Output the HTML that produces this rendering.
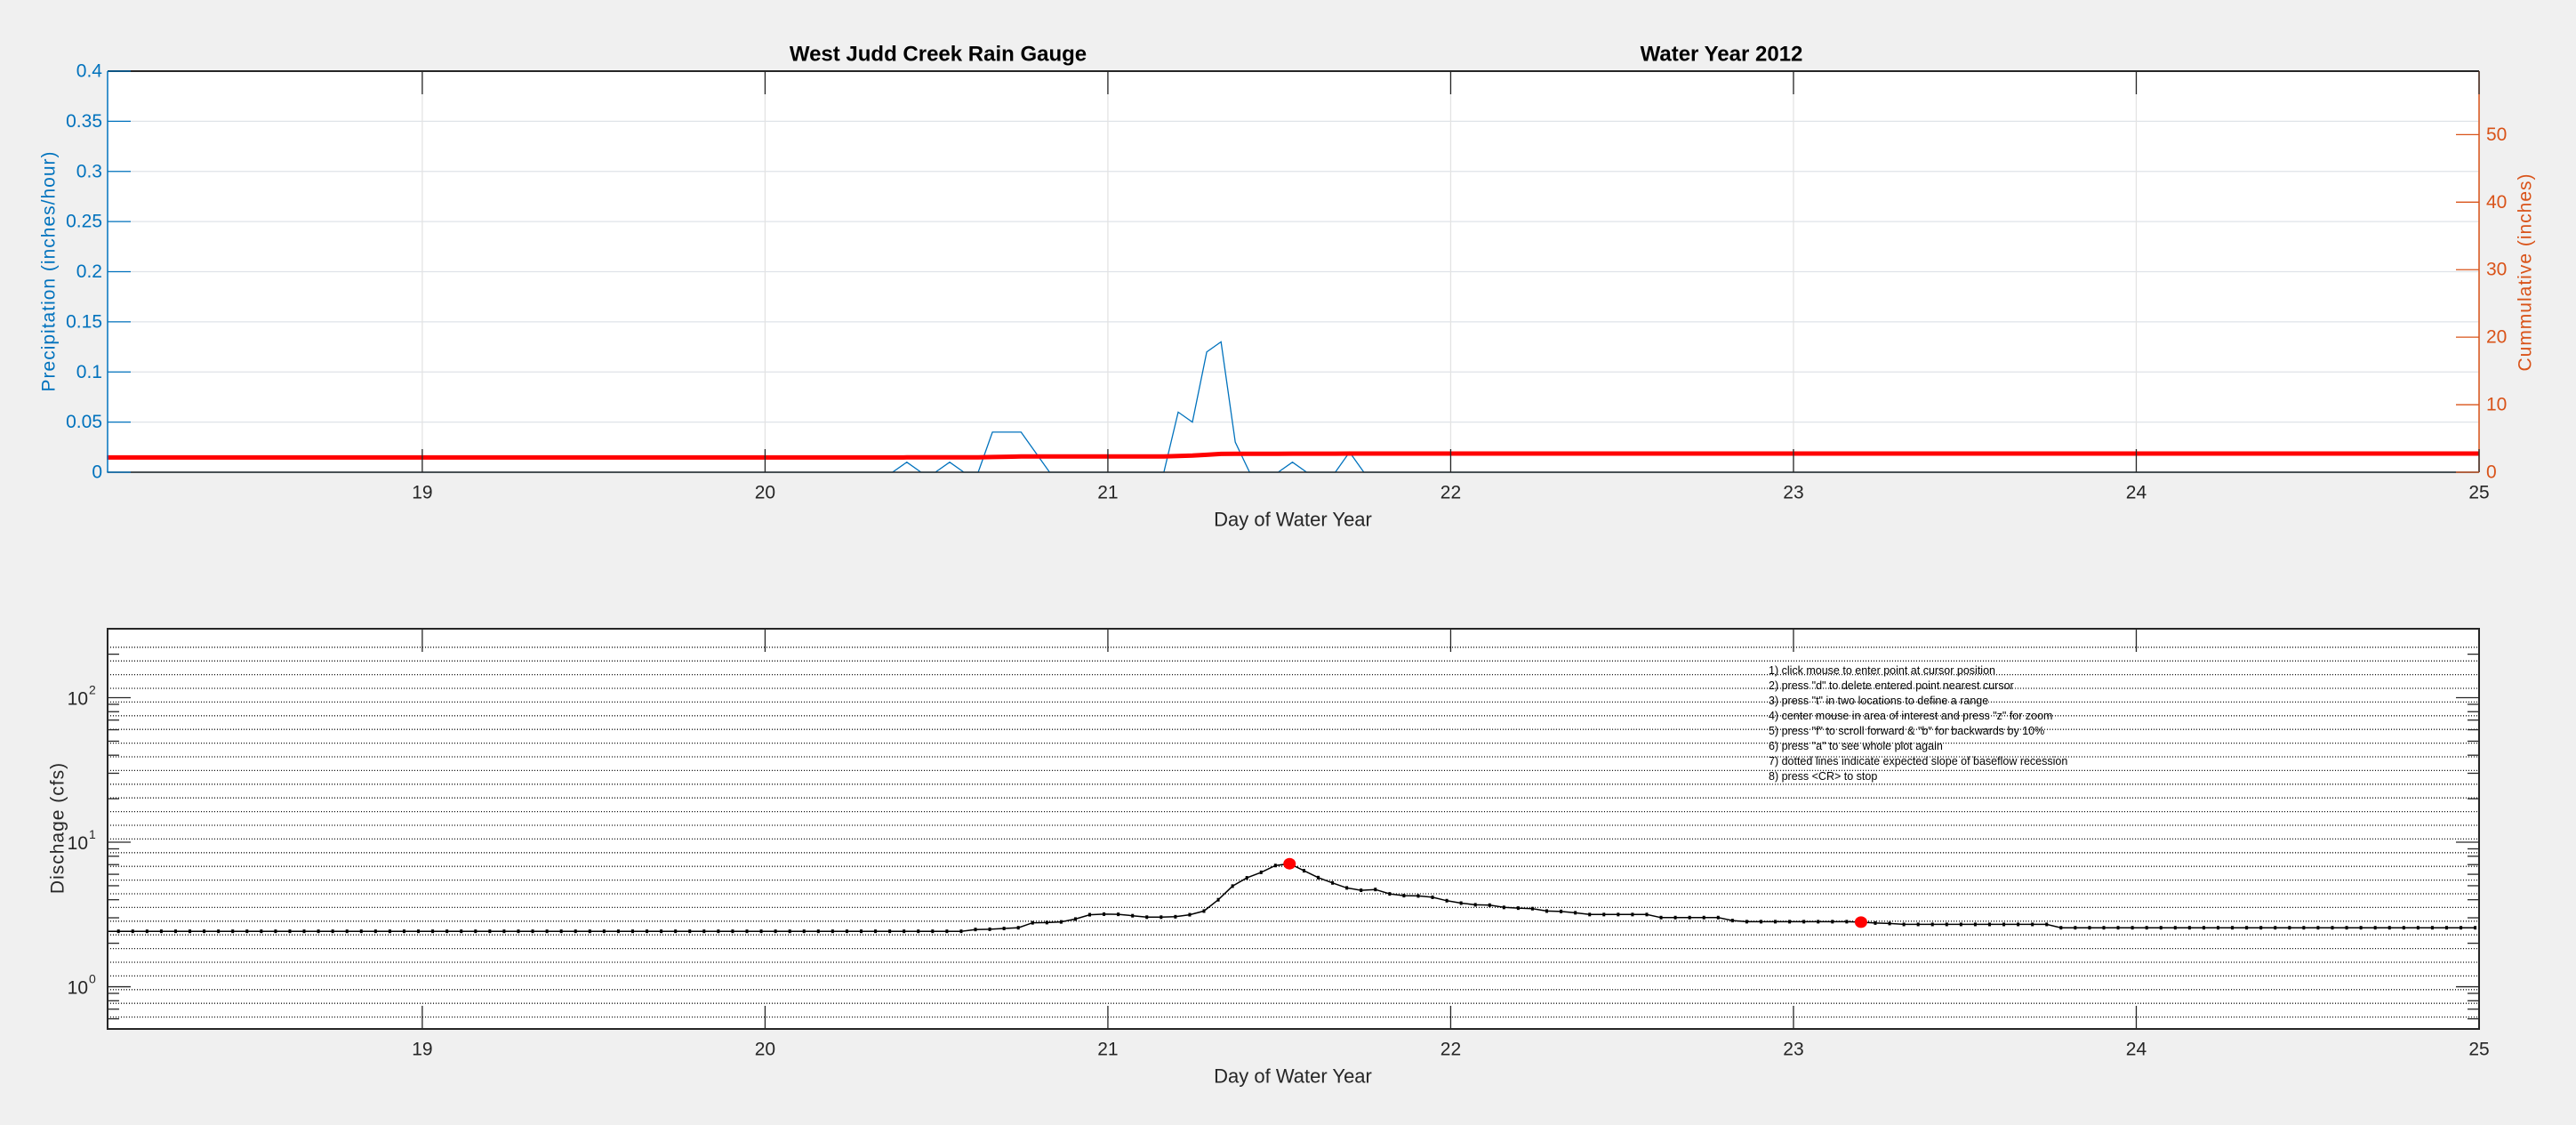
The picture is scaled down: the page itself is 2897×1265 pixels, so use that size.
<!DOCTYPE html>
<html><head><meta charset="utf-8"><style>
html,body{margin:0;padding:0;background:#f0f0f0;}
svg{display:block;font-family:"Liberation Sans",Arial,sans-serif;}
</style></head><body>
<svg id="fig" width="2897" height="1265" viewBox="0 0 2897 1265" xmlns="http://www.w3.org/2000/svg"></svg>
<script>
// ---- data ----
const xTicks = [19,20,21,22,23,24,25];
const precipTicks = [0,0.05,0.1,0.15,0.2,0.25,0.3,0.35,0.4];
const precipTickLabels = ["0","0.05","0.1","0.15","0.2","0.25","0.3","0.35","0.4"];
const cumTicks = [0,10,20,30,40,50];
const precipStartDay = [18.08];
const hourStep = [1/24];
const precipValues = [0,0,0,0,0,0,0,0,0,0,0,0,0,0,0,0,0,0,0,0,0,0,0,0,0,0,0,0,0,0,0,0,0,0,0,0,0,0,0,0,0,0,0,0,0,0,0,0,0,0,0,0,0,0,0,0,0.01,0,0,0.01,0,0,0.04,0.04,0.04,0.02,0,0,0,0,0,0,0,0,0,0.06,0.05,0.12,0.13,0.03,0,0,0,0.01,0,0,0,0.02,0,0,0,0,0,0,0,0,0,0,0,0,0,0,0,0,0,0,0,0,0,0,0,0,0,0,0,0,0,0,0,0,0,0,0,0,0,0,0,0,0,0,0,0,0,0,0,0,0,0,0,0,0,0,0,0,0,0,0,0,0,0,0,0,0,0,0,0,0,0,0,0,0,0,0,0,0,0,0];
const cumStart = [2.19];
const qStartDay = [18.072];
const qValues = [2.42,2.42,2.42,2.42,2.42,2.42,2.42,2.42,2.42,2.42,2.42,2.42,2.42,2.42,2.42,2.42,2.42,2.42,2.42,2.42,2.42,2.42,2.42,2.42,2.42,2.42,2.42,2.42,2.42,2.42,2.42,2.42,2.42,2.42,2.42,2.42,2.42,2.42,2.42,2.42,2.42,2.42,2.42,2.42,2.42,2.42,2.42,2.42,2.42,2.42,2.42,2.42,2.42,2.42,2.42,2.42,2.42,2.42,2.42,2.42,2.42,
2.49,2.50,2.53,2.56,2.77,2.78,2.81,2.94,3.15,3.18,3.17,3.10,3.03,3.03,3.05,3.15,3.34,4.0,4.97,5.67,6.19,6.9,7.1,
6.35,5.69,5.23,4.83,4.65,4.71,4.39,4.27,4.25,4.16,3.94,3.79,3.69,3.67,3.54,3.50,3.47,3.34,3.32,3.25,3.16,3.16,3.16,3.16,3.16,3.01,3.01,3.01,3.01,3.01,2.87,2.82,2.82,2.82,2.82,2.82,2.82,2.82,2.82,2.80,2.76,2.74,
2.70,2.70,2.70,2.70,2.70,2.70,2.70,2.70,2.70,2.70,2.70,
2.56,2.56,2.56,2.56,2.56,2.56,2.56,2.56,2.56,2.56,2.56,2.56,2.56,2.56,2.56,2.56,2.56,2.56,2.56,2.56,2.56,2.56,2.56,2.56,2.56,2.56,2.56,2.56,2.56,2.56];
const pickedDays = [21.53, 23.197];
const pickedValues = [7.1, 2.80];
const logDecades = [0,1,2];
const instructions = ['1) click mouse to enter point at cursor position','2) press "d" to delete entered point nearest cursor','3) press "t" in two locations to define a range','4) center mouse in area of interest and press "z" for zoom','5) press "f" to scroll forward & "b" for backwards by 10%','6) press "a" to see whole plot again','7) dotted lines indicate expected slope of baseflow recession','8) press <CR> to stop'];

// ---- layout ----
const NS="http://www.w3.org/2000/svg";
const svg=document.getElementById('fig');
const L=121,R=2788,T1=80,B1=531,T2=707,B2=1157;
const XMIN=18.082,XMAX=25;
const PMAX=0.4, CMAX=59.4, LMIN=-0.292, LMAX=2.477;
const BLUE="#0072BD", ORANGE="#D95319", TXT="#262626";
function xs(d){return L+(d-XMIN)/(XMAX-XMIN)*(R-L);}
function yp(v){return B1-v/PMAX*(B1-T1);}
function yc(v){return B1-v/CMAX*(B1-T1);}
function yq(v){return B2-(Math.log10(v)-LMIN)/(LMAX-LMIN)*(B2-T2);}
function mk(tag,attrs,parent){const el=document.createElementNS(NS,tag);for(const k in attrs)el.setAttribute(k,attrs[k]);(parent||svg).appendChild(el);return el;}
function txt(s,x,y,opt,parent){const el=mk('text',Object.assign({x:x,y:y,'font-size':21,fill:TXT,'text-anchor':'middle','dominant-baseline':'central'},opt||{}),parent);el.textContent=s;return el;}

const defs=mk('defs',{});
const cp2=mk('clipPath',{id:'clipQ'},defs);
mk('rect',{x:L,y:T2,width:R-L,height:B2-T2},cp2);

// ===== TOP AXES =====
const topG=mk('g',{});


const bg1=mk('rect',{x:L,y:T1,width:R-L,height:B1-T1,fill:'#fff'},topG);


precipTicks.forEach(v=>{const g=mk('line',{x1:L,x2:R,y1:yp(v),y2:yp(v),stroke:'#dfe3e8','stroke-width':1.3},topG);

});
xTicks.forEach(d=>{const g=mk('line',{x1:xs(d),x2:xs(d),y1:T1,y2:B1,stroke:'#e3e3e3','stroke-width':1.3},topG);

});
let pp=precipValues.map((v,i)=>xs(precipStartDay[0]+i*hourStep[0]).toFixed(1)+','+yp(v).toFixed(1)).join(' ');
const pl=mk('polyline',{points:pp,fill:'none',stroke:BLUE,'stroke-width':1.3},topG);


let acc=cumStart[0];
let cp=precipValues.map((v,i)=>{acc+=v;return xs(precipStartDay[0]+i*hourStep[0]).toFixed(1)+','+yc(acc).toFixed(1);});
cp.unshift(L+','+yc(cumStart[0]).toFixed(1));
cp.push(R+','+yc(acc).toFixed(1));
const cl=mk('polyline',{points:cp.join(' '),fill:'none',stroke:'#f00','stroke-width':5},topG);


const a1=mk('line',{x1:L,x2:R,y1:T1,y2:T1,stroke:'#262626','stroke-width':2},topG);


const a2=mk('line',{x1:L,x2:R,y1:B1,y2:B1,stroke:'#262626','stroke-width':1.5},topG);


const a3=mk('line',{x1:L,x2:L,y1:T1,y2:B1,stroke:BLUE,'stroke-width':1.5},topG);


const a4=mk('line',{x1:R,x2:R,y1:T1,y2:B1,stroke:ORANGE,'stroke-width':1.5},topG);


xTicks.forEach(d=>{
 const t=mk('line',{x1:xs(d),x2:xs(d),y1:T1,y2:T1+26,stroke:'#262626','stroke-width':1.3},topG);
 
 
 const b=mk('line',{x1:xs(d),x2:xs(d),y1:B1,y2:B1-26,stroke:'#262626','stroke-width':1.3},topG);
 
 
 const l=txt(String(d),xs(d),554,{},topG);
 
 
});
precipTicks.forEach((v,i)=>{
 const t=mk('line',{x1:L,x2:L+26,y1:yp(v),y2:yp(v),stroke:BLUE,'stroke-width':1.3},topG);
 
 
 const l=txt(precipTickLabels[i],L-6,yp(v),{'text-anchor':'end',fill:BLUE},topG);
 
 
});
cumTicks.forEach(v=>{
 const t=mk('line',{x1:R,x2:R-26,y1:yc(v),y2:yc(v),stroke:ORANGE,'stroke-width':1.3},topG);
 
 
 const l=txt(String(v),R+8,yc(v),{'text-anchor':'start',fill:ORANGE},topG);
 
 
});
let lab;
lab=txt('West Judd Creek Rain Gauge',1055,61,{'font-size':24,'font-weight':'bold',fill:'#000'});


lab=txt('Water Year 2012',1936,61,{'font-size':24,'font-weight':'bold',fill:'#000'});


lab=txt('Day of Water Year',1454,584,{'font-size':22});


lab=txt('Precipitation (inches/hour)',55,305,{'font-size':21,fill:BLUE,transform:'rotate(-90 55 305)','letter-spacing':'1'});


lab=txt('Cummulative (inches)',2840,306,{'font-size':21,fill:ORANGE,transform:'rotate(-90 2840 306)','letter-spacing':'1'});



// ===== BOTTOM AXES =====
const botG=mk('g',{});


const bg2=mk('rect',{x:L,y:T2,width:R-L,height:B2-T2,fill:'#fff'},botG);


for(let k=0;k<28;k++){
 const y=727.8+k*15.4;
 const d=mk('line',{x1:L,x2:R,y1:y,y2:y,stroke:'#111','stroke-width':1.3,'stroke-dasharray':'1,2'},botG);
 
 
}
instructions.forEach((s,i)=>{
 const t=txt(s,1989,754+i*17,{'text-anchor':'start','font-size':12.5,fill:'#000'},botG);
 
 
});
const qClip=mk('g',{'clip-path':'url(#clipQ)'},botG);


let qp=qValues.map((v,i)=>[xs(qStartDay[0]+i*hourStep[0]),yq(v)]);
const ql=mk('polyline',{points:qp.map(p=>p[0].toFixed(1)+','+p[1].toFixed(1)).join(' '),fill:'none',stroke:'#000','stroke-width':1.5},qClip);


qp.forEach(p=>{
 const m=mk('rect',{x:p[0]-1.5,y:p[1]-2,width:3,height:4,fill:'#000'},qClip);
 
 
});
pickedDays.forEach((d,i)=>{
 const c=mk('ellipse',{cx:xs(d),cy:yq(pickedValues[i]),rx:7,ry:6.5,fill:'#f00'},botG);
 
 
});
const box=mk('rect',{x:L,y:T2,width:R-L,height:B2-T2,fill:'none',stroke:'#262626','stroke-width':2},botG);


xTicks.forEach(d=>{
 const t=mk('line',{x1:xs(d),x2:xs(d),y1:T2,y2:T2+26,stroke:'#262626','stroke-width':1.3},botG);
 
 
 const b=mk('line',{x1:xs(d),x2:xs(d),y1:B2,y2:B2-26,stroke:'#262626','stroke-width':1.3},botG);
 
 
 const l=txt(String(d),xs(d),1180,{},botG);
 
 
});
for(let dec=-1;dec<=2;dec++){
 for(let m=1;m<=9;m++){
  const v=m*Math.pow(10,dec);const lv=Math.log10(v);
  if(lv<LMIN||lv>LMAX)continue;
  const y=yq(v);const len=(m===1)?26:13;
  const t1=mk('line',{x1:L,x2:L+len,y1:y,y2:y,stroke:'#262626','stroke-width':1.3},botG);
  
  
  const t2=mk('line',{x1:R,x2:R-len,y1:y,y2:y,stroke:'#262626','stroke-width':1.3},botG);
  
  
 }
}
logDecades.forEach(p=>{
 const y=yq(Math.pow(10,p));
 const t=mk('text',{x:L-22,y:y+8,'font-size':21,fill:TXT,'text-anchor':'end'},botG);
 
 
 t.textContent='10';
 const s=mk('text',{x:L-21,y:y-4,'font-size':14,fill:TXT,'text-anchor':'start'},botG);
 
 
 s.textContent=String(p);
});
lab=txt('Day of Water Year',1454,1210,{'font-size':22});


lab=txt('Dischage (cfs)',65,931,{'font-size':21,fill:TXT,transform:'rotate(-90 65 931)','letter-spacing':'1'});


</script>
</body></html>
